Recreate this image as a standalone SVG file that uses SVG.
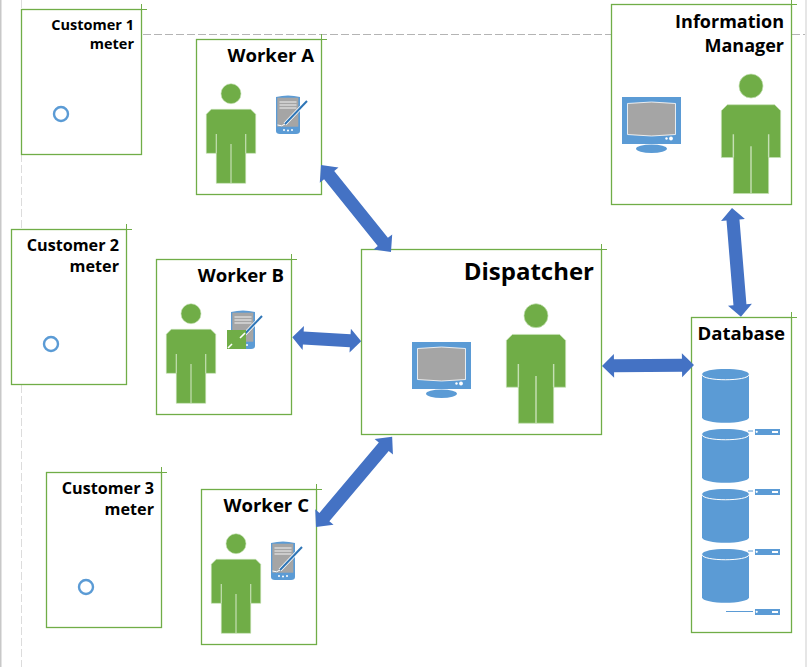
<svg xmlns="http://www.w3.org/2000/svg" xmlns:xlink="http://www.w3.org/1999/xlink" width="807" height="667" viewBox="0 0 807 667">
<style>
.box{fill:#fff;stroke:#70ad47;stroke-width:1.3}
.tick{fill:none;stroke:#70ad47;stroke-width:1}
.lbl{font-family:"Open Sans","Noto Sans",sans-serif;font-weight:700;fill:#000;text-anchor:end}
.w{font-size:18.6px}.i{font-size:18px}.c{font-size:14.5px}.c2{font-size:16.2px}.d{font-size:24px}
.arrow{fill:#4472c4}
.meter{fill:#fff;stroke:#5b9bd5;stroke-width:2.4}
</style>
<defs>
<g id="person">
<circle cx="0" cy="0" r="10" fill="#70ad47" stroke="#c5e0b4" stroke-width=".6"/>
<path d="M-19.7,15.6H19.7L24.7,20.6V59.6H14.7V89.6H-14.7V59.6H-24.7V20.6Z" fill="#70ad47" stroke="#c5e0b4" stroke-width=".6"/>
<path d="M-14.7,40.3V59.6M14.7,40.3V59.6M0,50.3V89.6" fill="none" stroke="#c5e0b4" stroke-width="1.2"/>
</g>
<g id="monitor">
<rect x="0" y="0" width="59" height="47" fill="#5b9bd5"/>
<ellipse cx="29.5" cy="51.7" rx="15.5" ry="4.2" fill="#5b9bd5"/>
<path d="M5.5,6.5Q29.5,3.5 53.5,6.5V37.5Q29.5,40.5 5.5,37.5Z" fill="#a5a5a5" stroke="#fff" stroke-width=".8"/>
<circle cx="44.5" cy="41.5" r="1.2" fill="#fff"/>
<circle cx="49" cy="41.5" r="1.9" fill="#fff"/>
</g>
<g id="pda">
<path d="M0,2Q12,-1 24,2V36Q24,39 20,39H4Q0,39 0,36Z" fill="#5b9bd5"/>
<rect x="1.3" y="2.7" width="21" height="29" fill="#a5a5a5"/>
<path d="M3.5,7H20.5M3.5,10H20.5M3.5,13H20.5" stroke="#d9d9d9" stroke-width="1.6" fill="none"/>
<path d="M1.5,30Q6,32 9,29" stroke="#fff" stroke-width="1" fill="none"/>
<path d="M9,29L31,6" stroke="#fff" stroke-width="3.6" fill="none"/>
<path d="M9,29L31,6" stroke="#2e75b6" stroke-width="2" fill="none"/>
<circle cx="8" cy="35" r="1" fill="#fff"/><circle cx="12" cy="35.5" r="1" fill="#fff"/><circle cx="16" cy="35" r="1" fill="#fff"/>
</g>
<g id="cyl">
<path d="M0,5.5C0,-1.8 47,-1.8 47,5.5V48.2C47,55.5 0,55.5 0,48.2Z" fill="#5b9bd5"/>
<path d="M0,5.5C0,12.5 47,12.5 47,5.5" fill="none" stroke="#fff" stroke-width="1"/>
</g>
<g id="srv">
<rect x="0" y="0" width="25" height="6" fill="#5b9bd5"/>
<circle cx="1.7" cy="2.8" r="1.1" fill="#fff"/>
<rect x="17" y="2" width="6" height="2" fill="#fff"/>
</g>
</defs>
<rect width="807" height="667" fill="#fff"/>
<rect x="0" y="0" width="1.5" height="667" fill="#c8c8c8"/>
<rect x="805" y="0" width="2" height="667" fill="#e6e6e6"/>
<path d="M21.5,0V667" stroke="#dcdcdc" stroke-width="1" stroke-dasharray="8 3" fill="none"/>
<path d="M143,34.5H805" stroke="#b4b4b4" stroke-width="1" stroke-dasharray="8 3" fill="none"/>

<g id="customer1">
<rect class="box" x="21.5" y="9.5" width="120" height="145"/>
<path class="tick" d="M141.5,4V9.5H147"/>
<text class="lbl c" x="134" y="30">Customer 1</text>
<text class="lbl c" x="134" y="49">meter</text>
<circle class="meter" cx="61" cy="114" r="7"/>
</g>
<g id="customer2">
<rect class="box" x="11.5" y="229.5" width="115" height="155"/>
<path class="tick" d="M126.5,224V229.5H132"/>
<text class="lbl c2" x="119" y="251">Customer 2</text>
<text class="lbl c2" x="119" y="272">meter</text>
<circle class="meter" cx="51" cy="344" r="7"/>
</g>
<g id="customer3">
<rect class="box" x="46.5" y="472.5" width="115" height="155"/>
<path class="tick" d="M161.5,467V472.5H167"/>
<text class="lbl c2" x="154" y="494">Customer 3</text>
<text class="lbl c2" x="154" y="515">meter</text>
<circle class="meter" cx="86" cy="587" r="7"/>
</g>
<g id="workerA">
<rect class="box" x="196.5" y="39.5" width="125" height="155"/>
<path class="tick" d="M321.5,34V39.5H327"/>
<text class="lbl w" x="314" y="62">Worker A</text>
<use xlink:href="#person" href="#person" x="231" y="93.7"/>
<use xlink:href="#pda" href="#pda" x="276" y="95"/>
</g>
<g id="workerB">
<rect class="box" x="156.5" y="259.5" width="135" height="155"/>
<path class="tick" d="M291.5,254V259.5H297"/>
<text class="lbl w" x="284" y="282">Worker B</text>
<use xlink:href="#person" href="#person" x="191" y="313.7"/>
<use xlink:href="#pda" href="#pda" x="231" y="310"/>
<rect x="227" y="330" width="19" height="19" fill="#70ad47"/>
<path d="M228,348L232,344M240,338L245,333" stroke="#fff" stroke-width="1.6" fill="none"/>
</g>
<g id="workerC">
<rect class="box" x="201.5" y="489.5" width="115" height="155"/>
<path class="tick" d="M316.5,484V489.5H322"/>
<text class="lbl w" x="309" y="512">Worker C</text>
<use xlink:href="#person" href="#person" x="236" y="543.7"/>
<use xlink:href="#pda" href="#pda" x="271" y="541"/>
</g>
<g id="dispatcher">
<rect class="box" x="361.5" y="249.5" width="240" height="185"/>
<path class="tick" d="M601.5,244V249.5H607"/>
<text class="lbl d" x="594" y="280">Dispatcher</text>
<use xlink:href="#monitor" href="#monitor" x="412" y="342"/>
<use xlink:href="#person" href="#person" transform="translate(536 315.7) scale(1.2)"/>
</g>
<g id="informationManager">
<rect class="box" x="611.5" y="4.5" width="180" height="200"/>
<path class="tick" d="M791.5,0V4.5H797"/>
<text class="lbl i" x="784" y="28">Information</text>
<text class="lbl i" x="784" y="52">Manager</text>
<use xlink:href="#monitor" href="#monitor" x="622" y="97"/>
<use xlink:href="#person" href="#person" transform="translate(751 86) scale(1.2)"/>
</g>
<g id="database">
<rect class="box" x="691.5" y="317.5" width="100" height="315"/>
<path class="tick" d="M791.5,312V317.5H797"/>
<text class="lbl w" x="785" y="340">Database</text>
<use xlink:href="#cyl" href="#cyl" x="702" y="369"/>
<use xlink:href="#cyl" href="#cyl" x="702" y="429"/>
<use xlink:href="#cyl" href="#cyl" x="702" y="489"/>
<use xlink:href="#cyl" href="#cyl" x="702" y="549"/>
<path d="M748,431H753M748,491H753M748,551H753M726,611.5H753" stroke="#5b9bd5" stroke-width="1" fill="none"/>
<use xlink:href="#srv" href="#srv" x="755" y="429"/>
<use xlink:href="#srv" href="#srv" x="755" y="489"/>
<use xlink:href="#srv" href="#srv" x="755" y="549"/>
<use xlink:href="#srv" href="#srv" x="755" y="609"/>
</g>
<g id="connectors">
<path class="arrow" d="M0,0L13,-12V-6.5H98.7V-12L111.7,0L98.7,12V6.5H13V12Z" transform="translate(321 165) rotate(51.2)"/>
<path class="arrow" d="M0,0L11,-12V-6.5H58V-12L69,0L58,12V6.5H11V12Z" transform="translate(292.3 337.3) rotate(3.3)"/>
<path class="arrow" d="M0,0L13,-12V-6.5H105V-12L118,0L105,12V6.5H13V12Z" transform="translate(316 527) rotate(-49.8)"/>
<path class="arrow" d="M0,0L12,-12V-6.5H80V-12L92,0L80,12V6.5H12V12Z" transform="translate(602 366) rotate(-.6)"/>
<path class="arrow" d="M0,0L12,-12V-6.5H97V-12L109,0L97,12V6.5H12V12Z" transform="translate(732 208) rotate(85.3)"/>
</g>
</svg>
